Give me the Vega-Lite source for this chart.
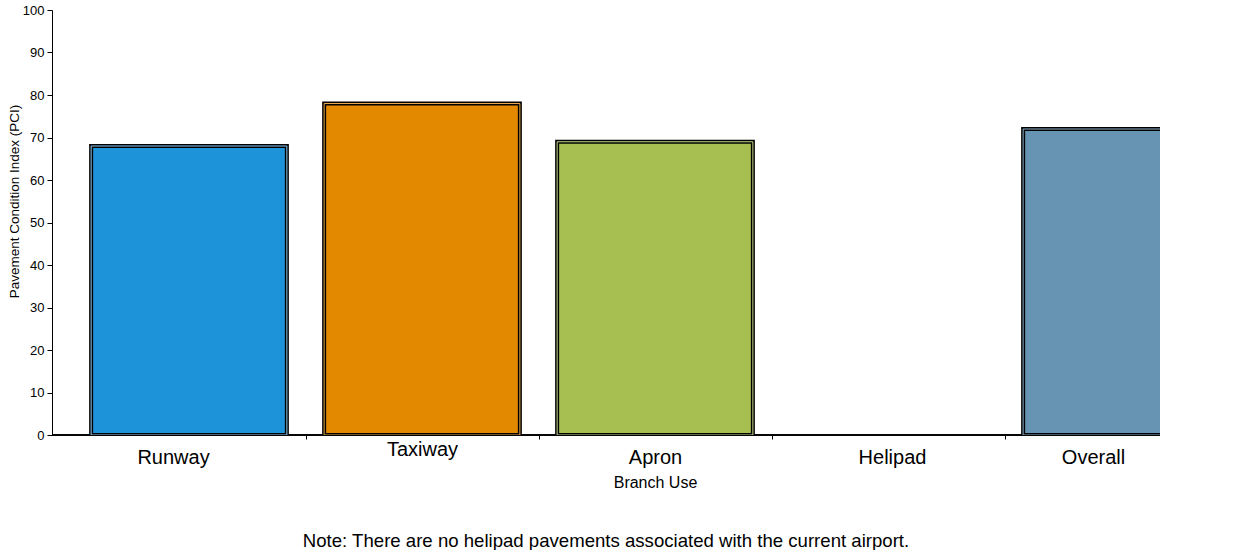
{
  "$schema": "https://vega.github.io/schema/vega-lite/v6.json",
  "width": 1108,
  "height": 425,
  "autosize": {"type": "none"},
  "padding": {"left": 52, "top": 10, "right": 97, "bottom": 115},
  "background": "white",
  "config": {
    "font": "Liberation Sans",
    "view": {"stroke": null}
  },
  "title": {
    "text": "Note: There are no helipad pavements associated with the current airport.",
    "orient": "bottom",
    "anchor": "middle",
    "fontSize": 18.6,
    "fontWeight": "normal",
    "color": "#000000",
    "font": "Liberation Sans",
    "offset": 42,
    "baseline": "top"
  },
  "data": {
    "values": [
      {"branch": "Runway", "pci": 68},
      {"branch": "Taxiway", "pci": 78},
      {"branch": "Apron", "pci": 69},
      {"branch": "Helipad", "pci": null},
      {"branch": "Overall", "pci": 72}
    ]
  },
  "encoding": {
    "x": {
      "field": "branch",
      "type": "nominal",
      "sort": ["Runway", "Taxiway", "Apron", "Helipad", "Overall"],
      "scale": {"range": [20.5, 1185.5], "paddingInner": 0.16, "paddingOuter": 0.08},
      "axis": {
        "title": "Branch Use",
        "titleFontSize": 16,
        "titleFontWeight": "normal",
        "titleColor": "#000000",
        "titlePadding": 7,
        "labelFontSize": 20,
        "labelColor": "#000000",
        "labelAngle": 0,
        "labelPadding": {"condition": {"test": "datum.value === 'Taxiway'", "value": 0}, "value": 8},
        "labelOffset": {"condition": [
          {"test": "datum.value === 'Runway'", "value": 100.5},
          {"test": "datum.value === 'Overall'", "value": 88.5},
          {"test": "datum.value === 'Helipad'", "value": 120.5}
        ], "value": 116.5},
        "domain": false,
        "tickOffset": -116.5,
        "tickColor": {"condition": {"test": "datum.value === 'Runway'", "value": "transparent"}, "value": "#000000"},
        "tickSize": 4,
        "grid": false
      }
    }
  },
  "layer": [
    {
      "mark": {"type": "rule", "color": "#000000", "strokeWidth": 1},
      "encoding": {"y": {"datum": 0, "type": "quantitative"}, "x": null}
    },
    {
      "mark": {"type": "bar", "strokeWidth": 4, "stroke": "#000000", "clip": true},
      "encoding": {
        "y": {
          "field": "pci",
          "type": "quantitative",
          "scale": {"domain": [0, 100]},
          "axis": {
            "title": "Pavement Condition Index (PCI)",
            "titleFontSize": 13.5,
            "titleFontWeight": "normal",
            "titleColor": "#000000",
            "titleX": -38,
            "titleY": 191,
            "titleAnchor": "middle",
            "titleBaseline": "middle",
            "values": [0, 10, 20, 30, 40, 50, 60, 70, 80, 90, 100],
            "labelFontSize": 13,
            "labelColor": "#000000",
            "labelPadding": 3,
            "tickColor": "#000000",
            "tickSize": 5,
            "domainColor": "#000000",
            "gridColor": "#cfcfcf",
            "gridWidth": 1.2
          }
        },
        "fill": {
          "field": "branch",
          "type": "nominal",
          "legend": null,
          "scale": {
            "domain": ["Runway", "Taxiway", "Apron", "Helipad", "Overall"],
            "range": ["#1d94d9", "#e38900", "#a6bf50", "#999999", "#6794b3"]
          }
        }
      }
    },
    {
      "mark": {"type": "bar", "strokeWidth": 1, "fillOpacity": 0, "clip": true},
      "encoding": {
        "y": {"field": "pci", "type": "quantitative"},
        "stroke": {
          "field": "branch",
          "type": "nominal",
          "legend": null,
          "scale": {
            "domain": ["Runway", "Taxiway", "Apron", "Helipad", "Overall"],
            "range": ["#8fcdf2", "#e8a84a", "#c8da8a", "#cccccc", "#8fb0c8"]
          }
        }
      }
    }
  ]
}
